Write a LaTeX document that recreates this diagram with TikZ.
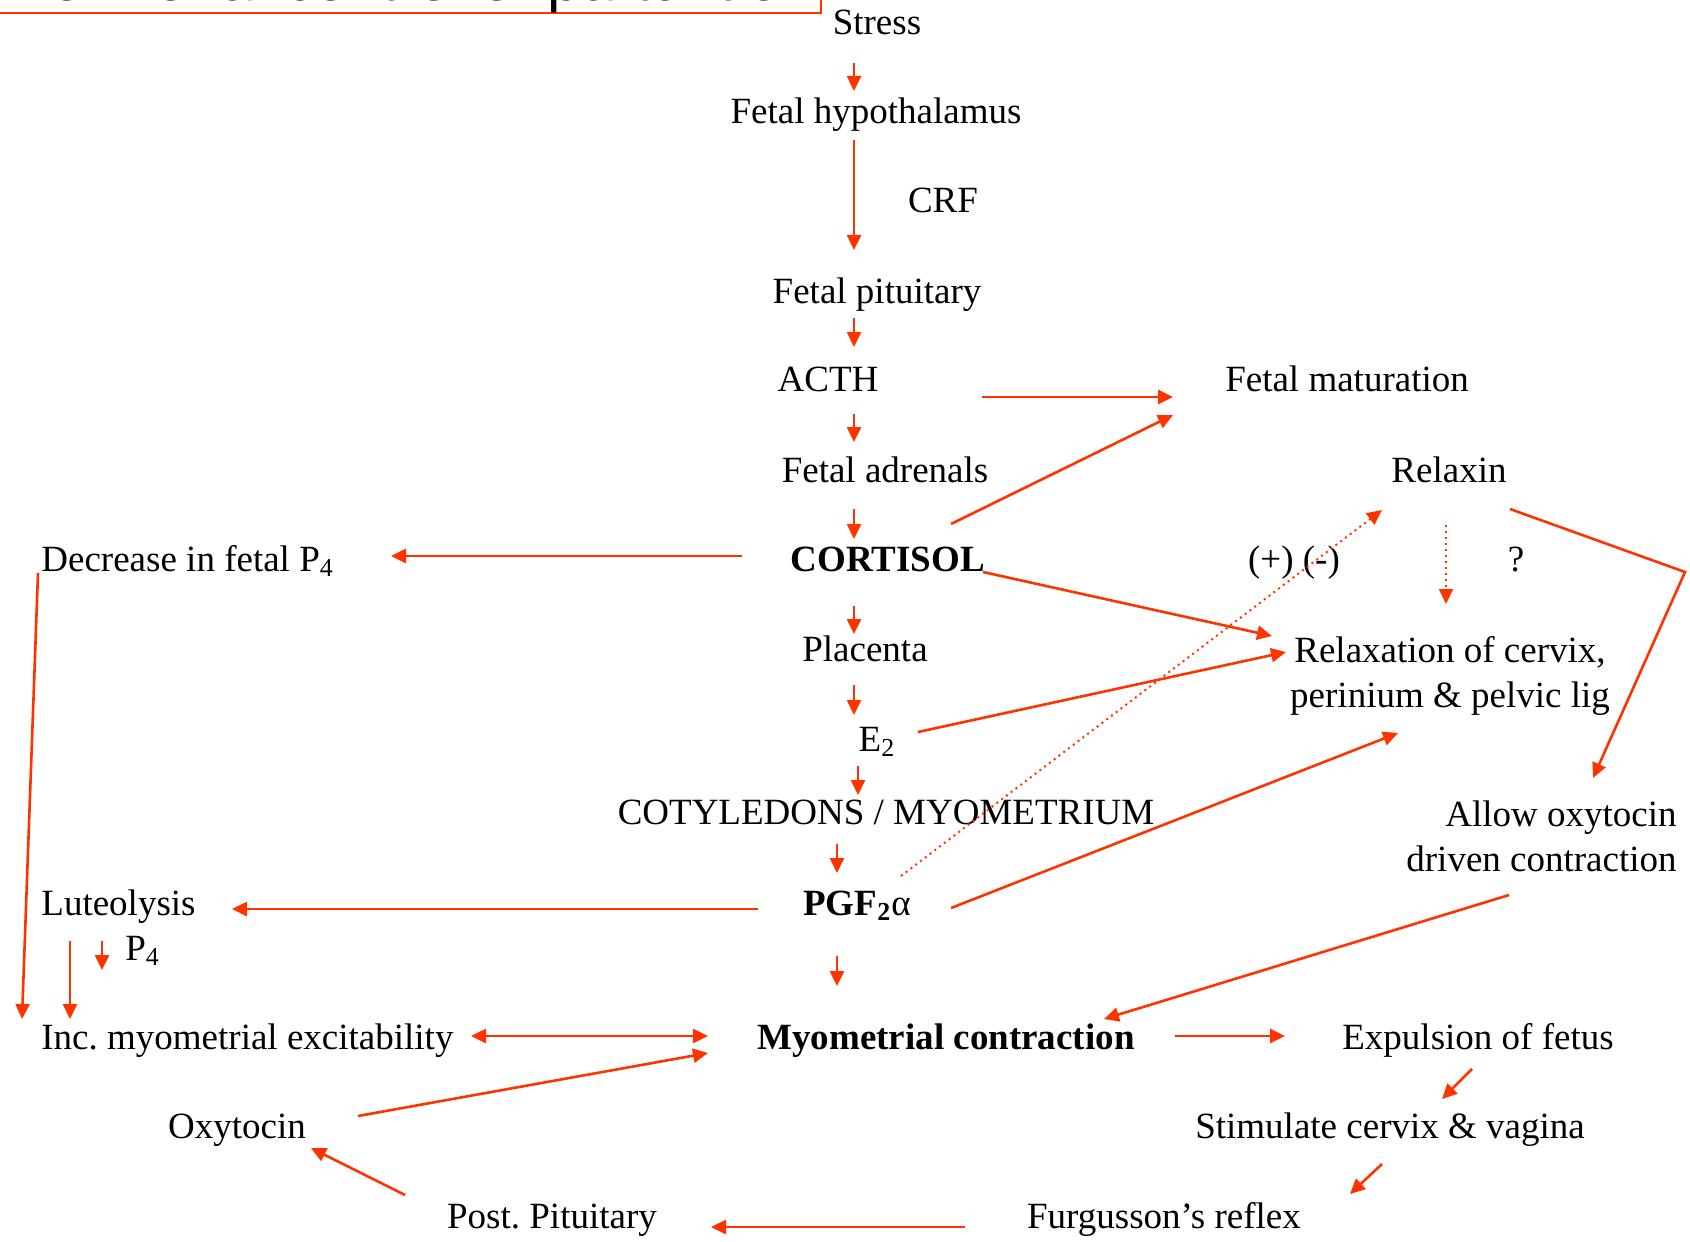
\documentclass[tikz,border=0pt]{standalone}
\usepackage{fontspec}
\setmainfont{Liberation Serif}
\newfontfamily\titlefont{Liberation Sans}
\usetikzlibrary{arrows.meta}
\definecolor{arrowred}{RGB}{255,51,0}

\begin{document}
\begin{tikzpicture}
  [
    x=0.5pt, y=-0.5pt,
    lbl/.style={inner sep=0pt, text height=13pt, text depth=3.7pt, font=\fontsize{18.5}{22.5}\selectfont\frenchspacing},
    twoline/.style={inner sep=0pt, align=center, font=\fontsize{18.5}{22.5}\selectfont\frenchspacing},
    arr/.style={draw=arrowred, line width=1.3pt, -{Triangle[length=7.5pt,width=7pt]}},
    dotarr/.style={arr, line width=1pt, dotted},
  ]
  \useasboundingbox (0,0) rectangle (1690,1241);
  \clip (0,0) rectangle (1690,1241);

  % title box, cut off by the page
  \draw[arrowred, line width=1pt] (-20,-100) rectangle (821,13);
  \node[anchor=base east, inner sep=0pt, font=\titlefont\fontsize{30}{36}\selectfont] (title) at (815,0.5) {Hormonal control of parturition};

  % fetal axis
  \node[lbl] (stress) at (877,25) {Stress};
  \node[lbl] (hypo) at (876,114) {Fetal hypothalamus};
  \node[lbl] (crf) at (943,203) {CRF};
  \node[lbl] (pit) at (877,294) {Fetal pituitary};
  \node[lbl] (acth) at (828,382) {ACTH};
  \node[lbl] (fetmat) at (1347,382) {Fetal maturation};
  \node[lbl] (adren) at (885,473) {Fetal adrenals};
  \node[lbl] (relaxin) at (1449,473) {Relaxin};
  \node[lbl, anchor=west] (decp4) at (41,562) {Decrease in fetal P\textsubscript{4}};
  \node[lbl] (cortisol) at (888,562) {\textbf{CORTISOL}};
  \node[lbl] (sign) at (1294,562) {(+) (-)};
  \node[lbl] (query) at (1516,562) {?};
  \node[lbl] (placenta) at (865,652) {Placenta};
  \node[twoline, anchor=north] (relax) at (1450,636) {Relaxation of cervix,\\perinium \& pelvic lig};
  \node[lbl] (e2) at (877,742) {E\textsubscript{2}};
  \node[lbl] (coty) at (886,815) {COTYLEDONS / MYOMETRIUM};
  \node[twoline, align=right, anchor=north east] (allow) at (1677,800) {Allow oxytocin\\driven contraction};
  \node[lbl, anchor=west] (lut) at (41,906) {Luteolysis};
  \node[lbl] (pgf) at (857,906) {\textbf{PGF\textsubscript{2}}α};
  \node[lbl, anchor=west] (p4) at (125,951) {P\textsubscript{4}};

  % labour
  \node[lbl, anchor=west] (incexc) at (41,1040) {Inc. myometrial excitability};
  \node[lbl] (myo) at (946,1040) {\textbf{Myometrial contraction}};
  \node[lbl] (expul) at (1478,1040) {Expulsion of fetus};
  \node[lbl] (oxy) at (237,1129) {Oxytocin};
  \node[lbl] (stim) at (1390,1129) {Stimulate cervix \& vagina};
  \node[lbl] (postpit) at (552,1219) {Post. Pituitary};
  \node[lbl] (furg) at (1164,1219) {Furgusson’s reflex};

  \draw[arr] ([shift={(-23,38)}]stress.center) -- ([shift={(-22,-23)}]hypo.center);
  \draw[arr] ([shift={(-22,26)}]hypo.center) -- ([shift={(-23,-44)}]pit.center);
  \draw[arr] ([shift={(-23,24)}]pit.center) -- ([shift={(26,-35)}]acth.center);
  \draw[arr] ([shift={(154,15)}]acth.center) -- ([shift={(-174,15)}]fetmat.center);
  \draw[arr] ([shift={(26,32)}]acth.center) -- ([shift={(-31,-31)}]adren.center);
  \draw[arr] ([shift={(-31,36)}]adren.center) -- ([shift={(-34,-23)}]cortisol.center);
  \draw[arr] ([shift={(63,-38)}]cortisol.center) -- ([shift={(-174,33)}]fetmat.center);
  \draw[arr] ([shift={(-146,-6)}]cortisol.center) -- ([shift={(350,-6)}]decp4.west);
  \draw[arr] ([shift={(95,10)}]cortisol.center) -- ([shift={(-178,0)}]relax.north);
  \draw[arr] ([shift={(-34,44)}]cortisol.center) -- ([shift={(-11,-18)}]placenta.center);
  \draw[arr] ([shift={(-11,33)}]placenta.center) -- ([shift={(-23,-27)}]e2.center);
  \draw[arr] ([shift={(41,-10)}]e2.center) -- ([shift={(-164,16)}]relax.north);
  \draw[arr] ([shift={(-19,24)}]e2.center) -- ([shift={(-28,-20)}]coty.center);
  \draw[arr] ([shift={(-49,29)}]coty.center) -- ([shift={(-20,-33)}]pgf.center);
  \draw[dotarr] ([shift={(44,-30)}]pgf.center) -- ([shift={(-67,37)}]relaxin.center);
  \draw[arr] ([shift={(94,2)}]pgf.center) -- ([shift={(-52,97)}]relax.north);
  \draw[arr] ([shift={(-99,3)}]pgf.center) -- ([shift={(191,3)}]lut.west);
  \draw[arr] ([shift={(-20,50)}]pgf.center) -- ([shift={(-109,-54)}]myo.center);
  \draw[dotarr] ([shift={(-3,52)}]relaxin.center) -- ([shift={(-4,-32)}]relax.north);
  \draw[arr] ([shift={(61,36)}]relaxin.center) -- ([shift={(236,99)}]relaxin.center) -- ([shift={(-84,-22)}]allow.north east);
  \draw[arr] ([shift={(-168,95)}]allow.north east) -- ([shift={(158,-21)}]myo.center);
  \draw[arr] ([shift={(-3,11)}]decp4.west) -- ([shift={(-19,-21)}]incexc.west);
  \draw[arr] ([shift={(29,35)}]lut.west) -- ([shift={(29,-21)}]incexc.west);
  \draw[arr] ([shift={(61,35)}]lut.west) -- ([shift={(-23,19)}]p4.west);
  \draw[arr, {Triangle[length=7.5pt,width=7pt]}-{Triangle[length=7.5pt,width=7pt]}] ([shift={(430,-4)}]incexc.west) -- ([shift={(-238,-4)}]myo.center);
  \draw[arr] ([shift={(121,-13)}]oxy.center) -- ([shift={(-238,13)}]myo.center);
  \draw[arr] ([shift={(229,-4)}]myo.center) -- ([shift={(-193,-4)}]expul.center);
  \draw[arr] ([shift={(-6,29)}]expul.center) -- ([shift={(52,-30)}]stim.center);
  \draw[arr] ([shift={(-8,35)}]stim.center) -- ([shift={(186,-25)}]furg.center);
  \draw[arr] ([shift={(-199,8)}]furg.center) -- ([shift={(159,8)}]postpit.center);
  \draw[arr] ([shift={(-147,-24)}]postpit.center) -- ([shift={(74,19)}]oxy.center);

\end{tikzpicture}
\end{document}
